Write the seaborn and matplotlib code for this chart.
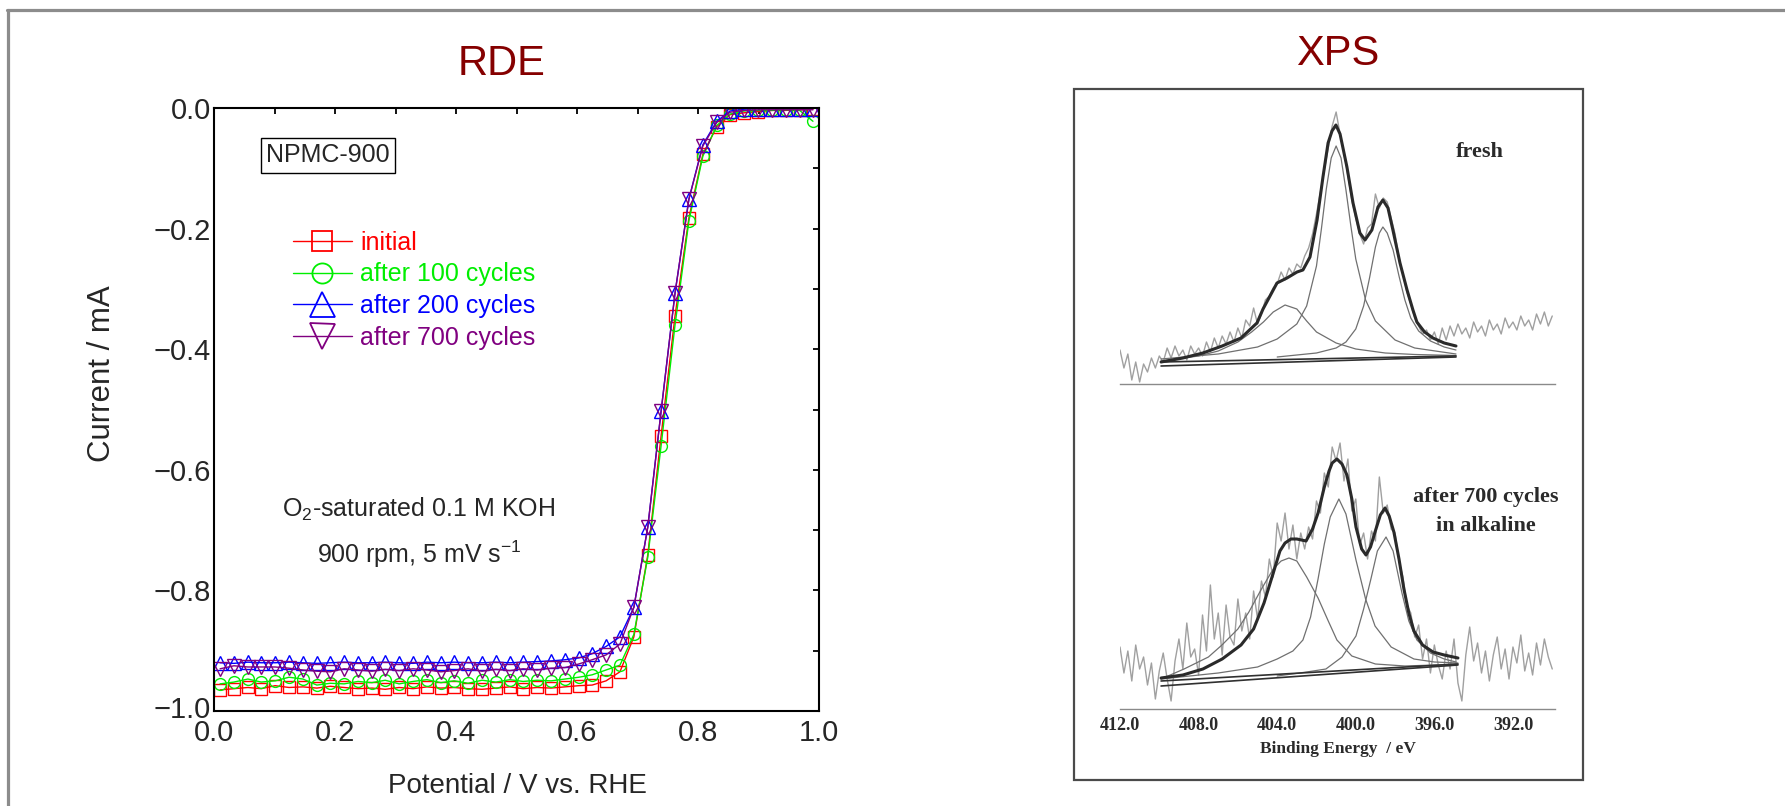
import numpy as np
import matplotlib
matplotlib.use("Agg")
import matplotlib.pyplot as plt
from matplotlib.lines import Line2D
from matplotlib.patches import Rectangle
import matplotlib.transforms as mtransforms
import seaborn as sns

# ---------------- RDE polarisation curves (NPMC-900) ----------------
potential = [0.010, 0.033, 0.056, 0.078, 0.101, 0.124, 0.147, 0.170, 0.192, 0.215, 0.238,
             0.261, 0.283, 0.306, 0.329, 0.352, 0.375, 0.397, 0.420, 0.443, 0.466, 0.489,
             0.511, 0.534, 0.557, 0.580, 0.603, 0.625, 0.648, 0.671, 0.694, 0.717, 0.739,
             0.762, 0.785, 0.808, 0.831, 0.853, 0.876, 0.899, 0.922, 0.945, 0.968, 0.990]

current_initial = [-0.965, -0.963, -0.961, -0.963, -0.958, -0.961, -0.960, -0.962, -0.959, -0.961, -0.963,
                   -0.962, -0.964, -0.961, -0.963, -0.960, -0.962, -0.961, -0.963, -0.964, -0.962, -0.960,
                   -0.963, -0.961, -0.962, -0.960, -0.958, -0.957, -0.950, -0.935, -0.877, -0.741, -0.544,
                   -0.345, -0.182, -0.077, -0.031, -0.011, -0.008, -0.006, -0.004, -0.004, -0.003, -0.002]

current_100 = [-0.955, -0.952, -0.947, -0.952, -0.950, -0.944, -0.947, -0.957, -0.954, -0.955, -0.951,
               -0.953, -0.949, -0.955, -0.951, -0.948, -0.953, -0.950, -0.954, -0.949, -0.952, -0.948,
               -0.951, -0.949, -0.950, -0.947, -0.944, -0.940, -0.932, -0.924, -0.873, -0.745, -0.560,
               -0.360, -0.187, -0.080, -0.029, -0.010, -0.005, -0.004, -0.004, -0.003, -0.004, -0.022]

current_200 = [-0.920, -0.921, -0.919, -0.920, -0.920, -0.919, -0.920, -0.921, -0.920, -0.919, -0.920,
               -0.920, -0.919, -0.920, -0.921, -0.919, -0.920, -0.919, -0.920, -0.920, -0.919, -0.920,
               -0.919, -0.918, -0.917, -0.915, -0.912, -0.905, -0.893, -0.877, -0.828, -0.695, -0.503,
               -0.307, -0.151, -0.061, -0.022, -0.005, -0.002, -0.001, -0.001, -0.001, -0.001, -0.001]

current_700 = [-0.930, -0.925, -0.927, -0.927, -0.927, -0.929, -0.932, -0.934, -0.935, -0.930, -0.932,
               -0.934, -0.931, -0.933, -0.930, -0.932, -0.935, -0.933, -0.930, -0.934, -0.931, -0.933,
               -0.930, -0.932, -0.929, -0.928, -0.922, -0.915, -0.907, -0.889, -0.828, -0.695, -0.503,
               -0.307, -0.151, -0.063, -0.024, -0.007, -0.004, -0.003, -0.003, -0.003, -0.003, -0.003]

series_labels = ["initial", "after 100 cycles", "after 200 cycles", "after 700 cycles"]
series_colors = ["#ff0000", "#00ee00", "#0000ff", "#800080"]
series_markers = ["s", "o", "^", "v"]
x_ticks = [0.0, 0.2, 0.4, 0.6, 0.8, 1.0]
y_ticks = [0.0, -0.2, -0.4, -0.6, -0.8, -1.0]

# ---------------- XPS N 1s spectra ----------------
# raw counts on a 0.2 eV grid from 412.0 down to 390.0 eV
raw_energy = np.round(np.arange(412.0, 389.95, -0.2), 1)
raw_fresh = [34, 16, 30, 4, 22, 2, 20, 12, 26, 16,
             28, 22, 36, 26, 38, 28, 34, 24, 38, 30,
             36, 28, 42, 32, 46, 36, 48, 40, 52, 42,
             56, 46, 64, 58, 76, 60, 70, 84, 88, 96,
             100, 112, 104, 116, 110, 120, 116, 128, 136, 150,
             170, 192, 214, 236, 258, 272, 250, 232, 208, 184,
             166, 150, 140, 156, 160, 190, 176, 186, 182, 166,
             150, 126, 110, 92, 80, 66, 58, 50, 54, 44,
             52, 40, 56, 44, 58, 48, 60, 50, 56, 46,
             62, 52, 58, 48, 64, 54, 60, 50, 66, 56,
             62, 54, 68, 58, 64, 54, 70, 60, 72, 58,
             68]
raw_cycled = [62, 36, 58, 28, 64, 40, 52, 24, 46, 10,
              38, 56, 30, 8, 48, 70, 40, 86, 52, 60,
              34, 94, 58, 124, 70, 96, 54, 104, 72, 64,
              110, 78, 96, 70, 118, 90, 128, 112, 150, 132,
              186, 168, 196, 160, 184, 150, 176, 160, 182, 170,
              208, 196, 236, 222, 262, 248, 266, 228, 250, 198,
              210, 164, 176, 150, 178, 168, 232, 196, 204, 180,
              176, 148, 132, 104, 96, 72, 84, 50, 70, 36,
              64, 44, 30, 58, 40, 70, 26, 8, 54, 82,
              48, 66, 36, 58, 28, 54, 72, 40, 60, 30,
              62, 46, 74, 38, 56, 34, 66, 44, 70, 52,
              40]

# fitted envelope and components, fresh sample
fresh_env_e = [409.91, 408.8, 407.78, 406.8, 405.84, 405.03, 404.72, 404.01, 403.50, 402.99,
               402.69, 402.33, 401.97, 401.67, 401.41, 401.21, 401.01, 400.80, 400.45, 400.14,
               399.79, 399.53, 399.18, 398.87, 398.62, 398.36, 398.11, 397.75, 397.39, 397.09,
               396.89, 396.5, 396.07, 395.5, 394.90]
fresh_env_i = [22, 26, 31, 38, 46, 61, 75, 101, 106, 112,
               114, 127, 164, 207, 241, 253, 259, 250, 217, 181,
               151, 144, 154, 177, 184, 176, 154, 121, 94, 74,
               62, 52, 46, 41, 38]
fresh_c1_e = [409.91, 408.0, 407.0, 406.0, 405.3, 404.7, 404.2, 403.6, 403.0, 402.5, 402.0,
              401.0, 400.0, 398.5, 397.0, 394.9]
fresh_c1_i = [23, 28, 33, 42, 52, 62, 72, 79, 75, 63, 52, 41, 35, 31, 29.5, 28.5]
fresh_c2_e = [409.91, 407.0, 405.0, 404.0, 403.0, 402.5, 402.0, 401.75, 401.5, 401.25, 401.0,
              400.75, 400.5, 400.25, 400.0, 399.5, 399.0, 398.0, 397.0, 394.9]
fresh_c2_i = [25, 30, 37, 45, 60, 78, 118, 155, 195, 226, 238, 226, 194, 158, 125, 84, 63, 44, 36, 30]
fresh_c3_e = [404.0, 402.0, 401.0, 400.5, 400.0, 399.6, 399.3, 399.0, 398.8, 398.62, 398.4,
              398.1, 397.8, 397.5, 397.2, 396.8, 396.2, 395.5, 394.9]
fresh_c3_i = [27, 31, 36, 42, 55, 78, 106, 137, 151, 157, 151, 134, 108, 84, 66, 53, 43, 37, 34]
fresh_base_e = [409.91, 394.9]
fresh_base_i = [22, 28]
fresh_base2_i = [18, 27]

# fitted envelope and components, after 700 cycles in alkaline
cyc_env_e = [409.91, 408.8, 407.78, 406.8, 405.84, 405.2, 404.67, 404.2, 403.86, 403.6,
             403.30, 403.0, 402.53, 402.2, 401.92, 401.6, 401.36, 401.2, 400.96, 400.7,
             400.45, 400.2, 399.99, 399.7, 399.48, 399.25, 399.02, 398.75, 398.51, 398.3,
             398.06, 397.8, 397.55, 397.3, 397.04, 396.6, 396.07, 395.5, 394.80]
cyc_env_i = [31, 34, 40, 50, 64, 80, 106, 136, 158, 166,
             170, 170, 168, 180, 196, 222, 238, 246, 250, 245,
             234, 210, 182, 160, 154, 162, 177, 194, 201, 193,
             177, 150, 120, 96, 78, 64, 57, 54, 51]
cyc_c1_e = [409.91, 408.74, 407.5, 406.81, 406.0, 405.44, 404.8, 404.2, 403.8, 403.4,
            403.0, 402.5, 401.92, 401.4, 400.96, 400.2, 399.0, 397.5, 396.0, 394.8]
cyc_c1_i = [30, 40, 52, 64, 80, 97, 120, 140, 148, 151, 148, 132, 111, 88, 69, 53, 45, 43, 44, 45]
cyc_c2_e = [409.91, 407.0, 405.0, 404.0, 403.2, 402.69, 402.3, 401.92, 401.6, 401.3,
            400.86, 400.5, 400.2, 399.99, 399.5, 399.02, 398.2, 397.04, 396.0, 394.8]
cyc_c2_i = [30, 36, 42, 50, 58, 69, 92, 130, 165, 192, 210, 195, 168, 149, 110, 83, 62, 50, 47, 46]
cyc_c3_e = [404.0, 402.5, 401.52, 400.7, 399.99, 399.6, 399.23, 398.9, 398.46, 398.1,
            397.65, 397.3, 396.89, 396.2, 395.5, 394.9]
cyc_c3_i = [33, 37, 40, 52, 73, 100, 130, 158, 172, 158, 116, 88, 69, 56, 50, 47]
cyc_base_e = [409.91, 394.8]
cyc_base_i = [28, 45]
cyc_base2_i = [23, 44]

xps_ticks = [412.0, 408.0, 404.0, 400.0, 396.0, 392.0]

# ---------------- styling ----------------
sns.set_style("white")
plt.rcParams["font.family"] = ["Liberation Sans", "DejaVu Sans"]
plt.rcParams["mathtext.fontset"] = "custom"
plt.rcParams["mathtext.rm"] = "Liberation Sans"
plt.rcParams["mathtext.it"] = "Liberation Sans:italic"
plt.rcParams["axes.unicode_minus"] = True

W, H = 1785, 806
fig = plt.figure(figsize=(W / 100, H / 100), dpi=100)
fig.patch.set_facecolor("white")


def frect(x0, y0, x1, y1):
    return [x0 / W, 1 - y1 / H, (x1 - x0) / W, (y1 - y0) / H]


def fx(x):
    return x / W


def fy(y):
    return 1 - y / H


# slide frame (top and left edges)
fig.add_artist(Line2D([fx(7), 1.0], [fy(10), fy(10)], transform=fig.transFigure,
                      color="#8c8c8c", lw=2.3))
fig.add_artist(Line2D([fx(8), fx(8)], [fy(10), 0.0], transform=fig.transFigure,
                      color="#8c8c8c", lw=2.3))

# ---------------- RDE panel ----------------
ax = fig.add_axes(frect(214, 108, 819, 711))
series = [current_initial, current_100, current_200, current_700]
msizes = [8.5, 8.5, 10, 10]
for vals, col, mk, ms in zip(series, series_colors, series_markers, msizes):
    sns.lineplot(x=potential, y=vals, ax=ax, color=col, lw=1.0, marker=mk,
                 markersize=ms, markerfacecolor="none", markeredgecolor=col,
                 markeredgewidth=1.0, estimator=None, sort=False)

ax.set_xlim(0.0, 1.0)
ax.set_ylim(-1.0, 0.0)
ax.set_xticks(x_ticks)
ax.set_xticklabels([f"{t:.1f}" for t in x_ticks])
ax.set_yticks(y_ticks)
ax.set_yticklabels([f"{t:.1f}".replace("-", "\u2212") for t in y_ticks])
ax.set_xticks([0.1, 0.3, 0.5, 0.7, 0.9], minor=True)
ax.set_yticks([-0.1, -0.3, -0.5, -0.7, -0.9], minor=True)
ax.tick_params(which="both", direction="in", top=True, right=True, length=4.5,
               width=1.3, color="black", labelsize=21)
ax.tick_params(axis="x", which="major", pad=6)
ax.tick_params(axis="y", which="major", pad=2)
for sp in ax.spines.values():
    sp.set_linewidth(1.5)
    sp.set_color("black")

# lift the corner label a little so it clears the first x tick label
corner_label = ax.get_yticklabels()[-1]
corner_label.set_transform(corner_label.get_transform() +
                           mtransforms.ScaledTranslation(0, 3 / 72, fig.dpi_scale_trans))

ax.set_xlabel("Potential / V vs. RHE", fontsize=20, va="center")
ax.xaxis.set_label_coords((517 - 214) / 605, (711 - 786) / 603)
ax.set_ylabel("Current / mA", fontsize=22.5, va="center")
ax.yaxis.set_label_coords((102 - 214) / 605, (711 - 374) / 603)

handles = [Line2D([], [], color=c, lw=1.0, marker=m, markersize=s, markerfacecolor="none",
                  markeredgecolor=c, markeredgewidth=1.3)
           for c, m, s in zip(series_colors, series_markers, [14, 14.5, 18, 18])]
ax.legend(handles, series_labels, loc="upper left", bbox_to_anchor=(fx(293), fy(231)),
          bbox_transform=fig.transFigure, frameon=False, fontsize=18, handlelength=2.35,
          handletextpad=0.33, labelspacing=0.30, borderpad=0, borderaxespad=0,
          labelcolor="linecolor")

fig.text(fx(328), fy(155), "NPMC-900", fontsize=18, ha="center", va="center",
         bbox=dict(boxstyle="square,pad=0.22", fc="white", ec="black", lw=1.0))
fig.text(fx(419), fy(509), r"O$_2$-saturated 0.1 M KOH", fontsize=18, ha="center", va="center")
fig.text(fx(419), fy(554), r"900 rpm, 5 mV s$^{-1}$", fontsize=18, ha="center", va="center")

fig.text(fx(502), fy(64), "RDE", fontsize=30, color="#850000", ha="center", va="center")
fig.text(fx(1338), fy(54), "XPS", fontsize=30, color="#850000", ha="center", va="center")

# ---------------- XPS panel ----------------
fig.add_artist(Rectangle((fx(1074), fy(780)), (1583 - 1074) / W, (780 - 89) / H,
                         transform=fig.transFigure, fill=False, ec="#4a4a4a", lw=1.6))

xps_sets = [
    (frect(1120, 89, 1555, 384), 295, raw_fresh,
     (fresh_env_e, fresh_env_i), [(fresh_c1_e, fresh_c1_i), (fresh_c2_e, fresh_c2_i),
                                  (fresh_c3_e, fresh_c3_i)],
     (fresh_base_e, fresh_base_i, fresh_base2_i), False),
    (frect(1120, 395, 1555, 709), 314, raw_cycled,
     (cyc_env_e, cyc_env_i), [(cyc_c1_e, cyc_c1_i), (cyc_c2_e, cyc_c2_i),
                              (cyc_c3_e, cyc_c3_i)],
     (cyc_base_e, cyc_base_i, cyc_base2_i), True),
]

serif = ["Liberation Serif", "DejaVu Serif"]
for rect, ytop, raw, env, comps, base, show_labels in xps_sets:
    xa = fig.add_axes(rect)
    xa.patch.set_alpha(0)
    sns.lineplot(x=raw_energy, y=raw, ax=xa, color="#a0a0a0", lw=1.0, estimator=None, sort=False)
    for ce, ci in comps:
        sns.lineplot(x=ce, y=ci, ax=xa, color="#707070", lw=0.9, estimator=None, sort=False)
    sns.lineplot(x=base[0], y=base[1], ax=xa, color="#303030", lw=1.2, estimator=None, sort=False)
    sns.lineplot(x=base[0], y=base[2], ax=xa, color="#303030", lw=1.2, estimator=None, sort=False)
    sns.lineplot(x=env[0], y=env[1], ax=xa, color="#2a2a2a", lw=2.2, estimator=None, sort=False)
    xa.set_xlim(412.0, 389.86)
    xa.set_ylim(0, ytop)
    for side in ("top", "left", "right"):
        xa.spines[side].set_visible(False)
    xa.spines["bottom"].set_color("#8a8a8a")
    xa.spines["bottom"].set_linewidth(1.0)
    xa.set_yticks([])
    xa.set_xticks(xps_ticks)
    xa.tick_params(axis="x", direction="inout", length=4, width=1, color="#8a8a8a",
                   labelbottom=show_labels, labelsize=13, pad=4, labelcolor="#2a2a2a")
    if show_labels:
        xa.set_xticklabels([f"{t:.1f}" for t in xps_ticks], fontfamily=serif, fontweight="bold")
        xa.set_xlabel("Binding Energy  / eV", fontsize=12.5, fontfamily=serif,
                      fontweight="bold", color="#2a2a2a", labelpad=5)
    else:
        xa.set_xlabel("")
    xa.set_ylabel("")

fig.text(fx(1480), fy(152), "fresh", fontsize=16, family=serif, weight="bold",
         color="#2a2a2a", ha="center", va="center")
fig.text(fx(1486), fy(497), "after 700 cycles", fontsize=16, family=serif, weight="bold",
         color="#2a2a2a", ha="center", va="center")
fig.text(fx(1486), fy(526), "in alkaline", fontsize=16, family=serif, weight="bold",
         color="#2a2a2a", ha="center", va="center")

fig.savefig("out.png", dpi=100, facecolor="white")
